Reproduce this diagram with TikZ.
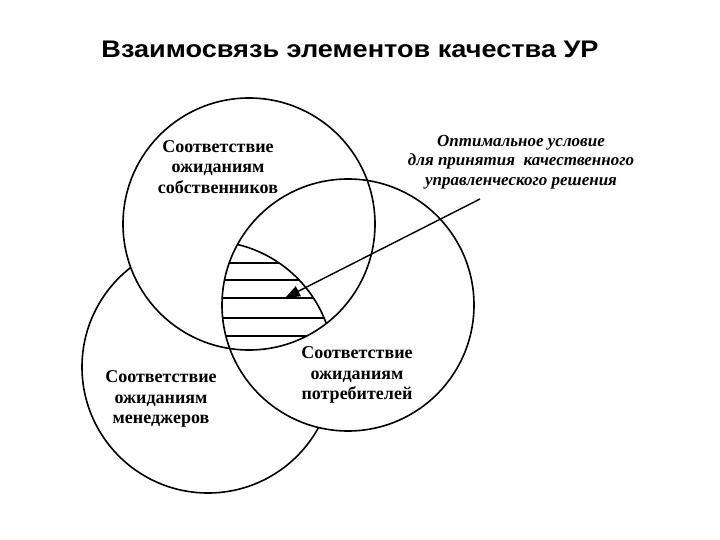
\documentclass[tikz,border=0pt]{standalone}
\usepackage{fontspec}
\setmainfont{Liberation Serif}
\newfontfamily\titlefont{Liberation Sans}
\usetikzlibrary{arrows.meta}
\tikzset{
  ring/.style={line width=1.6pt},
  hatch/.style={line width=1.4pt},
  lbl/.style={align=center, inner sep=0pt, font=\bfseries\fontsize{18}{20.5}\selectfont},
  ilbl/.style={align=center, inner sep=0pt, font=\bfseries\itshape\fontsize{17}{19.5}\selectfont},
}
\begin{document}
\begin{tikzpicture}[x=1pt,y=-1pt]
\useasboundingbox (0,0) rectangle (720,540);
\coordinate (c1) at (249,224);
\coordinate (c2) at (348,305);
\coordinate (c3) at (208,367);
\node[anchor=base, inner sep=0pt, xscale=1.13, font=\titlefont\bfseries\fontsize{24}{28}\selectfont] (title) at (350,58) {Взаимосвязь элементов качества УР};
% back circle
\draw[ring] (c3) circle (126);
% cover
\fill[white] (c1) circle (126);
\fill[white] (c2) circle (126);
% hatched triple region
\begin{scope}
  \clip (c1) circle (126);
  \clip (c2) circle (126);
  \draw[ring] (c3) circle (126);
  \clip (c3) circle (126);
  \foreach \yy in {263,280,298,318,336} {
    \draw[hatch] (150,\yy) -- (400,\yy);
  }
\end{scope}
\draw[ring] (c1) circle (126);
\draw[ring] (c2) circle (126);
% labels
\node[lbl] (own) at (218,167) {Соответствие\\ожиданиям\\собственников};
\node[lbl] (man) at (161,399) {Соответствие\\ожиданиям\\менеджеров};
\node[lbl] (cons) at (357,375) {Соответствие\\ожиданиям\\потребителей};
\node[ilbl] (opt) at (521,162) {Оптимальное условие\\для принятия\ \ качественного\\управленческого решения};
\coordinate (astart) at (480,199);
\coordinate (atip) at (285,298);
\draw[line width=1.4pt, -{Triangle[length=15pt,width=11pt]}] (astart) -- (atip);
\end{tikzpicture}
\end{document}
